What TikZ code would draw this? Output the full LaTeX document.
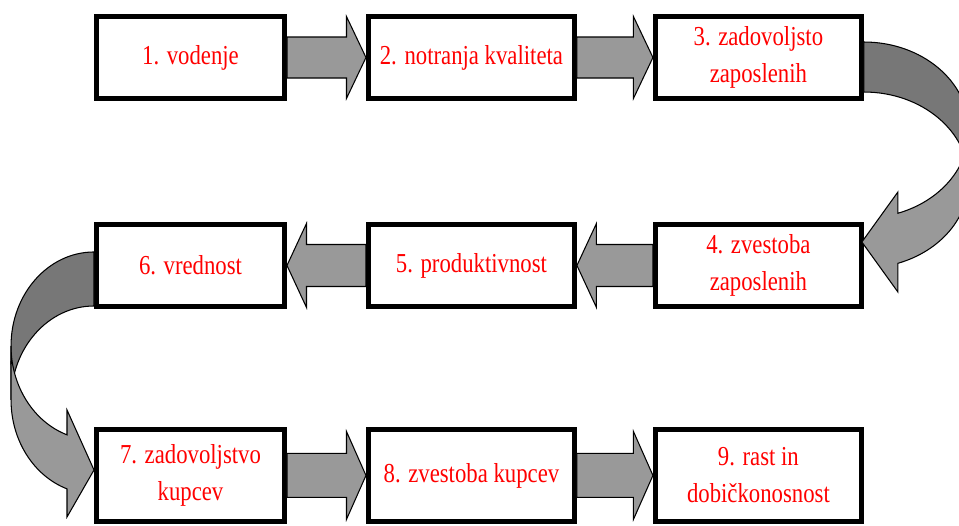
\documentclass[tikz,border=0pt]{standalone}
\usepackage{fontspec}
\setmainfont{Liberation Serif}[FakeStretch=0.83]
\usepackage{tikz}
\usetikzlibrary{calc,positioning}
\definecolor{Band}{RGB}{153,153,153}
\definecolor{BandDark}{RGB}{119,119,119}

\begin{document}
\begin{tikzpicture} [x=0.02cm, y=0.02cm,
       black, text=red, line join=miter,
       every node/.style={font=\fontsize{15.6}{21}\selectfont},
       stagebox/.style 2 args = {rectangle, minimum width=#1, minimum height=#2,
                                 draw=black, line width=2.85pt, fill=white,
                                 inner sep=0pt, align=center},
       blockarrow/.style = {draw=black, line width=0.6pt, fill=Band},
       backband/.style = {draw=black, line width=0.6pt, fill=BandDark}]
	\useasboundingbox (0,0) rectangle (959,-525);
	\clip (0,0) rectangle (959,-525);

	%% First row
	\node [stagebox={3.76cm}{1.64cm}] (lead) at (190.5,-57.5) {1. vodenje};
	\node [stagebox={4.12cm}{1.64cm},right = 1.58cm of lead] (quality) {2. notranja kvaliteta};
	\node [stagebox={4.12cm}{1.64cm},right = 1.52cm of quality] (empsat) {3. zadovoljsto\\zaposlenih};

	%% Second row
	\node [stagebox={4.12cm}{1.64cm},below = 2.42cm of empsat] (employ) {4. zvestoba\\zaposlenih};
	\node [stagebox={4.12cm}{1.64cm},left = 1.52cm of employ] (prod) {5. produktivnost};
	\node [stagebox={3.76cm}{1.64cm},left = 1.58cm of prod] (value) {6. vrednost};

	%% Third row
	\node [stagebox={3.76cm}{1.84cm},below = 2.36cm of value] (custsat) {7. zadovoljstvo\\kupcev};
	\node [stagebox={4.12cm}{1.84cm},right = 1.58cm of custsat] (custloy) {8. zvestoba kupcev};
	\node [stagebox={4.12cm}{1.84cm},right = 1.52cm of custloy] (growth) {9. rast in\\dobičkonosnost};

	%% Straight arrows
	\foreach \a/\b/\w in {lead.east/quality.west/0.41cm, quality.east/empsat.west/0.41cm,
	                      employ.west/prod.east/0.42cm, prod.west/value.east/0.42cm,
	                      custsat.east/custloy.west/0.44cm, custloy.east/growth.west/0.44cm}
	  \draw[blockarrow] let \p1=(\a), \p2=(\b), \n1={sign(\x2-\x1)} in
	        (\x1,\y1+\w) -- (\x2-\n1*0.39cm,\y1+\w) -- (\x2-\n1*0.39cm,\y1+2*\w) -- (\x2,\y1)
	        -- (\x2-\n1*0.39cm,\y1-2*\w) -- (\x2-\n1*0.39cm,\y1-\w) -- (\x1,\y1-\w) -- cycle;

	%% Curved arrow, first to second row
	\begin{scope}[shift={(empsat.east)}]
	  \draw[backband] (0,15.5) arc[start angle=90, end angle=0, x radius=2.1cm, y radius=1.76cm]
	        -- (105,-122.5) arc[start angle=0, end angle=90, x radius=2.1cm, y radius=1.76cm] -- cycle;
	  \draw[blockarrow] (105,-72.5) arc[start angle=0, end angle=-71.1, x radius=2.1cm, y radius=1.76cm]
	        -- (34,-134.5) -- (-2,-184.5) -- (34,-234.5) -- (34,-205.8)
	        arc[start angle=-71.1, end angle=0, x radius=2.1cm, y radius=1.76cm] -- cycle;
	\end{scope}

	%% Curved arrow, second to third row
	\begin{scope}[shift={(value.west)}]
	  \draw[backband] (0,13.5) arc[start angle=90, end angle=180, x radius=1.66cm, y radius=1.88cm]
	        -- (-83,-134.5) arc[start angle=180, end angle=90, x radius=1.66cm, y radius=1.88cm] -- cycle;
	  \draw[blockarrow] (-83,-80.5) arc[start angle=180, end angle=251, x radius=1.66cm, y radius=1.88cm]
	        -- (-27,-144.5) -- (0,-204.5) -- (-27,-251.5) -- (-27,-223.4)
	        arc[start angle=251, end angle=180, x radius=1.66cm, y radius=1.88cm] -- cycle;
	\end{scope}
\end{tikzpicture}
\end{document}
